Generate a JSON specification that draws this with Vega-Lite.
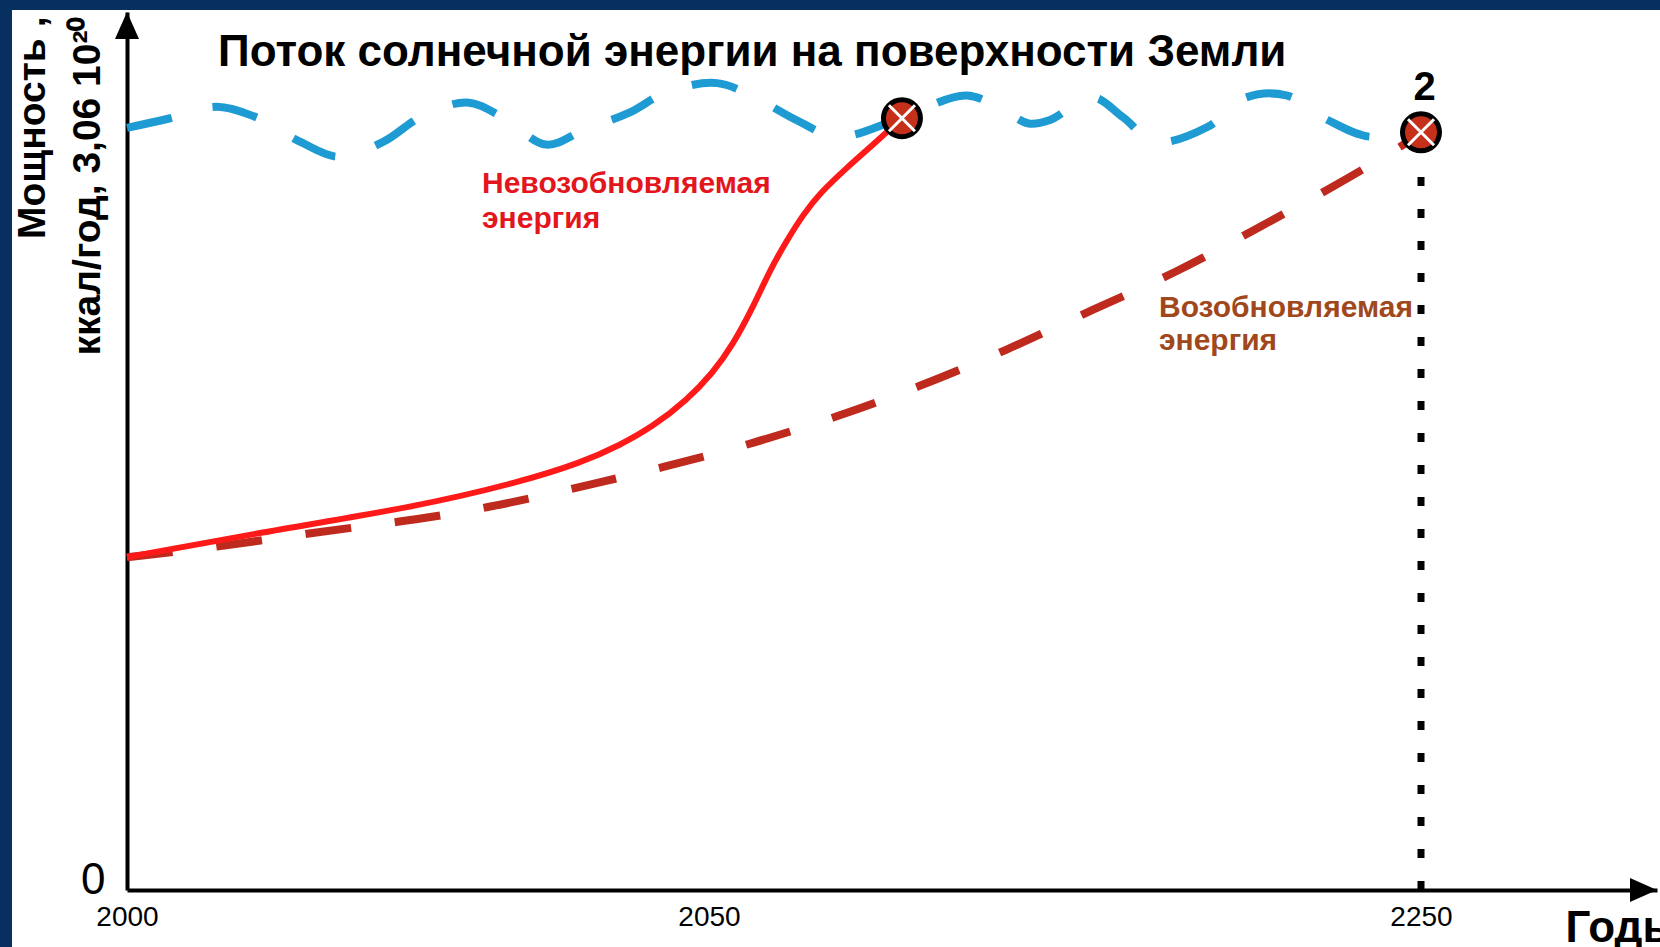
{
  "$schema": "https://vega.github.io/schema/vega-lite/v6.json",
  "width": 1648,
  "height": 937,
  "autosize": {"type": "none"},
  "padding": {"left": 12, "top": 10, "right": 0, "bottom": 0},
  "background": "#072f5f",
  "config": {"view": {"fill": "white", "stroke": null}, "font": "Liberation Sans"},
  "title": {
    "text": "Поток солнечной энергии на поверхности Земли",
    "anchor": "start",
    "frame": "group",
    "orient": "top",
    "offset": -65,
    "dx": 206,
    "fontSize": 44,
    "fontWeight": "bold",
    "font": "Liberation Sans",
    "color": "black"
  },
  "datasets": {
    "solar": [
      {"year": 2000, "value": 86.8}, {"year": 2003.7, "value": 87.9}, {"year": 2007.7, "value": 89.2},
      {"year": 2011.3, "value": 87.9}, {"year": 2014.9, "value": 85.2}, {"year": 2018.2, "value": 83.5},
      {"year": 2022.0, "value": 85.2}, {"year": 2025.2, "value": 88.0}, {"year": 2029.2, "value": 89.7},
      {"year": 2032.4, "value": 87.9}, {"year": 2036.0, "value": 84.9}, {"year": 2039.3, "value": 86.6},
      {"year": 2043.1, "value": 88.5}, {"year": 2046.4, "value": 90.9}, {"year": 2052.3, "value": 91.9},
      {"year": 2063.2, "value": 90.2}, {"year": 2074.5, "value": 87.7}, {"year": 2086.1, "value": 85.8},
      {"year": 2103.8, "value": 87.9}, {"year": 2122.4, "value": 90.5}, {"year": 2133.9, "value": 88.5},
      {"year": 2139.8, "value": 87.3}, {"year": 2145.8, "value": 87.7}, {"year": 2157.6, "value": 90.3},
      {"year": 2166.3, "value": 88.0}, {"year": 2175.3, "value": 85.2}, {"year": 2190.0, "value": 86.9},
      {"year": 2200.4, "value": 90.2}, {"year": 2212.2, "value": 90.5}, {"year": 2223.8, "value": 87.7},
      {"year": 2235.6, "value": 85.8}, {"year": 2246.1, "value": 86.6}, {"year": 2250, "value": 86.2}
    ],
    "nonrenewable": [
      {"year": 2000, "value": 37.9}, {"year": 2011.3, "value": 40.7}, {"year": 2024.7, "value": 43.6},
      {"year": 2033.6, "value": 46.4}, {"year": 2039.1, "value": 48.7}, {"year": 2042.4, "value": 50.7},
      {"year": 2045.2, "value": 52.8}, {"year": 2048.1, "value": 55.8}, {"year": 2051.1, "value": 58.9},
      {"year": 2056.7, "value": 62.1}, {"year": 2062.4, "value": 66.4}, {"year": 2067.1, "value": 70.6},
      {"year": 2071.9, "value": 74.0}, {"year": 2076.4, "value": 76.9}, {"year": 2081.2, "value": 79.4},
      {"year": 2088.8, "value": 82.3}, {"year": 2096.1, "value": 84.9}, {"year": 2104.2, "value": 87.9}
    ],
    "renewable": [
      {"year": 2000, "value": 37.9}, {"year": 2008.1, "value": 39.1}, {"year": 2015.8, "value": 40.7},
      {"year": 2023.4, "value": 41.9}, {"year": 2031.0, "value": 43.5}, {"year": 2038.6, "value": 45.8},
      {"year": 2046.0, "value": 48.1}, {"year": 2062.7, "value": 50.9}, {"year": 2086.1, "value": 53.9},
      {"year": 2108.3, "value": 57.2}, {"year": 2133.9, "value": 61.5}, {"year": 2157.6, "value": 66.1},
      {"year": 2181.3, "value": 70.3}, {"year": 2203.2, "value": 75.2}, {"year": 2225.5, "value": 80.1},
      {"year": 2243.0, "value": 84.3}, {"year": 2250, "value": 86.2}
    ],
    "markers": [{"year": 2104.2, "value": 87.9}, {"year": 2250, "value": 86.3}],
    "dotline": [{"year": 2250, "value": 0, "value2": 82}],
    "pointlabel": [{"year": 2251, "value": 91.3, "text": "2"}],
    "label_nonrenew": [{"year": 2030.5, "value": 79.4, "text": "Невозобновляемая\nэнергия"}],
    "label_renew": [{"year": 2176.4, "value": 65.3, "text": "Возобновляемая\nэнергия"}],
    "arrow_up": [{"year": 2000, "value": 100}],
    "arrow_right": [{"year": 2316, "value": 0}]
  },
  "encoding": {
    "x": {
      "field": "year",
      "type": "quantitative",
      "scale": {"domain": [2000, 2050, 2250, 2316], "range": [115, 697, 1409, 1645], "nice": false, "zero": false},
      "axis": {
        "title": "Годы",
        "values": [2000, 2050, 2250],
        "format": "d",
        "offset": -57,
        "domain": true,
        "domainColor": "black",
        "domainWidth": 4,
        "ticks": false,
        "grid": false,
        "labelFont": "Liberation Sans",
        "labelFontSize": 28,
        "labelColor": "black",
        "labelPadding": 13,
        "labelFlush": false,
        "labelOverlap": false,
        "titleFont": "Liberation Sans",
        "titleFontSize": 44,
        "titleFontWeight": "bold",
        "titleColor": "black",
        "titleX": 1553,
        "titleY": 51,
        "titleAlign": "left",
        "titleBaseline": "alphabetic",
        "encode": {"labels": {"update": {"dx": {"signal": "datum.value == 2250 ? -20 : datum.value == 2000 ? -4 : -2"}}}}
      }
    },
    "y": {
      "field": "value",
      "type": "quantitative",
      "scale": {"domain": [0, 100], "range": [880, 2], "nice": false, "zero": false},
      "axis": {
        "title": ["Мощность ,", "ккал/год, 3,06  10²⁰"],
        "values": [0],
        "offset": -115,
        "domain": true,
        "domainColor": "black",
        "domainWidth": 4,
        "ticks": false,
        "grid": false,
        "labelFont": "Liberation Sans",
        "labelFontSize": 44,
        "labelColor": "black",
        "labelPadding": 22,
        "labelBaseline": "alphabetic",
        "labelOffset": 3,
        "labelFlush": false,
        "titleFont": "Liberation Sans",
        "titleFontSize": 39,
        "titleFontWeight": "bold",
        "titleColor": "black",
        "titleX": -83,
        "titleY": 6,
        "titleAlign": "right",
        "titleBaseline": "alphabetic",
        "titleLineHeight": 55,
        "titleAngle": -90
      }
    }
  },
  "layer": [
    {"data": {"name": "solar"}, "mark": {"type": "line", "color": "#1f9bd3", "strokeWidth": 8, "strokeDash": [46, 42], "interpolate": "catmull-rom"}},
    {"data": {"name": "renewable"}, "mark": {"type": "line", "color": "#bf2a1e", "strokeWidth": 8, "strokeDash": [46, 44], "interpolate": "basis"}},
    {"data": {"name": "nonrenewable"}, "mark": {"type": "line", "color": "#ff1a1a", "strokeWidth": 6, "interpolate": "basis"}},
    {"data": {"name": "dotline"}, "mark": {"type": "rule", "color": "black", "strokeWidth": 7, "strokeDash": [9, 23]}, "encoding": {"y2": {"field": "value2"}}},
    {"data": {"name": "markers"}, "mark": {"type": "point", "shape": "circle", "size": 1369, "filled": true, "fill": "#c5301a", "stroke": "black", "strokeWidth": 5, "opacity": 1}},
    {"data": {"name": "markers"}, "mark": {"type": "point", "shape": "M-1,-1L1,1M1,-1L-1,1", "size": 676, "filled": false, "stroke": "white", "strokeWidth": 3, "opacity": 1}},
    {"data": {"name": "pointlabel"}, "mark": {"type": "text", "fontSize": 40, "fontWeight": "bold", "font": "Liberation Sans", "color": "black", "align": "center", "baseline": "middle"}, "encoding": {"text": {"field": "text"}}},
    {"data": {"name": "label_nonrenew"}, "mark": {"type": "text", "fontSize": 30, "fontWeight": "bold", "font": "Liberation Sans", "color": "#e3161d", "align": "left", "baseline": "alphabetic", "lineBreak": "\n", "lineHeight": 35}, "encoding": {"text": {"field": "text"}}},
    {"data": {"name": "label_renew"}, "mark": {"type": "text", "fontSize": 30, "fontWeight": "bold", "font": "Liberation Sans", "color": "#a0481c", "align": "left", "baseline": "alphabetic", "lineBreak": "\n", "lineHeight": 33}, "encoding": {"text": {"field": "text"}}},
    {"data": {"name": "arrow_up"}, "mark": {"type": "point", "shape": "M0,0L0.89,2L-0.89,2Z", "size": 729, "filled": true, "fill": "black", "strokeWidth": 0, "opacity": 1}},
    {"data": {"name": "arrow_right"}, "mark": {"type": "point", "shape": "M0,0L-2,-0.89L-2,0.89Z", "size": 729, "filled": true, "fill": "black", "strokeWidth": 0, "opacity": 1}}
  ]
}
